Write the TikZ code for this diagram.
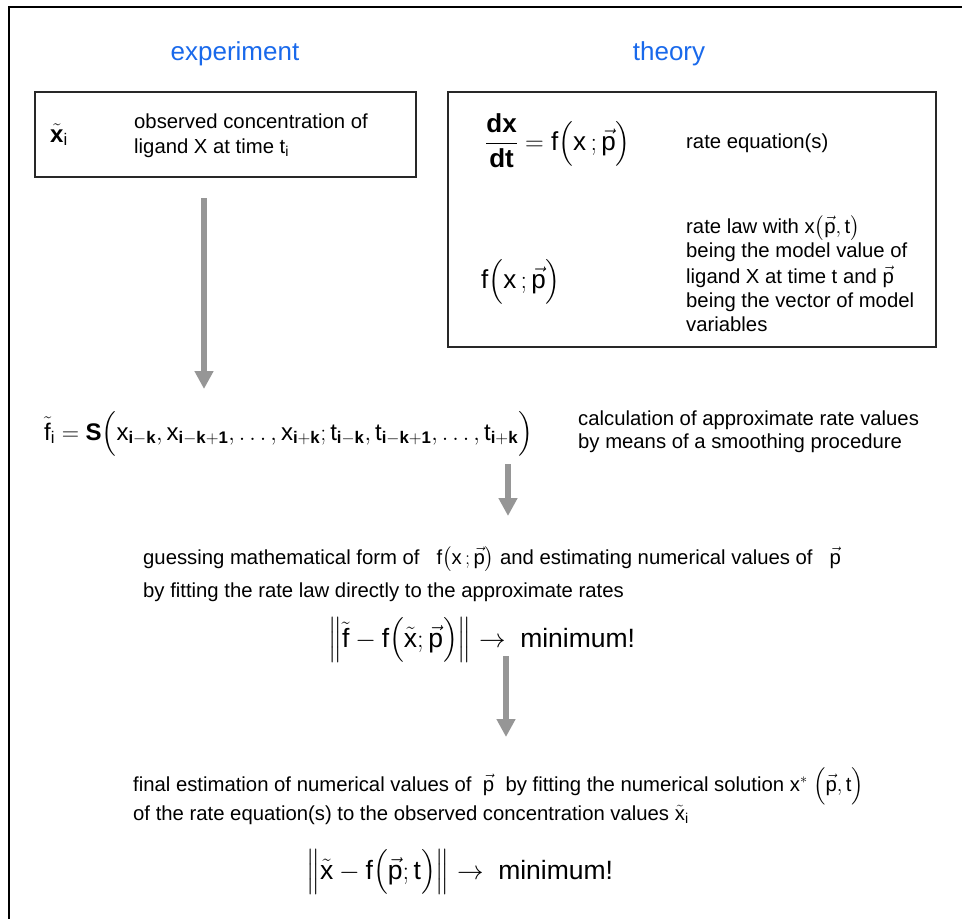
\documentclass[tikz,border=0pt]{standalone}
\usepackage{fix-cm}
\usepackage{amsmath}
\usepackage{fontspec}
\setmainfont{Liberation Sans}
\usetikzlibrary{arrows.meta}
\definecolor{hdblue}{RGB}{25,105,235}
\definecolor{arrgray}{RGB}{150,150,150}
\definecolor{boxline}{RGB}{40,40,40}
\newcommand\mr[1]{\mathrm{#1}}
\newcommand\pv{\vec{\mathrm{p}}}
\tikzset{
  txt/.style={inner sep=0pt, anchor=base west, font=\fontsize{20.3}{24.5}\selectfont},
  head/.style={inner sep=0pt, anchor=base, text=hdblue, font=\fontsize{26}{30}\selectfont},
  frm/.style={inner sep=0pt, anchor=base west, font=\fontsize{24}{28}\selectfont},
  bigfrm/.style={inner sep=0pt, anchor=base west, font=\fontsize{26}{30}\selectfont},
  minfrm/.style={inner sep=0pt, anchor=base west, font=\fontsize{26.5}{30}\selectfont},
  panel/.style={draw=boxline, line width=1.2pt},
  flow/.style={arrgray, line width=6.5pt, -{Triangle[width=18pt,length=18pt]}}
}
\begin{document}
\begin{tikzpicture}[x=1pt,y=-1pt]
\useasboundingbox (0,0) rectangle (962,919);
\draw[line width=1.8pt, black] (9,930) -- (9,7) -- (975,7);

\node[head] (hexp) at (235,60) {experiment};
\node[head] (hth) at (669,60) {theory};

% left box
\draw[panel] (35,92) rectangle (416,177);
\node[frm] (xi) at (50,142) {$\tilde{\mathbf{x}}_{\mr{i}}$};
\node[txt] (obs1) at (134,128) {observed concentration of};
\node[txt] (obs2) at (134,153) {ligand X at time t$_{\mr{i}}$};

% right box
\draw[panel] (448,92) rectangle (936,347);
\node[bigfrm] (rateeq) at (485,150) {$\dfrac{\mathbf{dx}}{\mathbf{dt}}=\mr{f}\Bigl(\mr{x}\,;\pv\Bigr)$};
\node[txt] (rateeqt) at (686,148) {rate equation(s)};
\node[bigfrm] (ratelaw) at (481,288) {$\mr{f}\Bigl(\mr{x}\,;\pv\Bigr)$};
\node[txt] (rl1) at (686,233) {rate law with $\mr{x}\bigl(\pv,\mr{t}\bigr)$};
\node[txt] (rl2) at (686,257) {being the model value of};
\node[txt] (rl3) at (686,283) {ligand X at time t and $\pv$};
\node[txt] (rl4) at (686,307) {being the vector of model};
\node[txt] (rl5) at (686,331) {variables};

% smoothing formula
\node[frm] (smooth) at (44,440) {$\tilde{\mr{f}}_{\mr{i}}=\mathbf{S}\Bigl(\mr{x}_{\mathbf{i}-\mathbf{k}},\mr{x}_{\mathbf{i}-\mathbf{k}+\mathbf{1}},\ldots,\mr{x}_{\mathbf{i}+\mathbf{k}};\mr{t}_{\mathbf{i}-\mathbf{k}},\mr{t}_{\mathbf{i}-\mathbf{k}+\mathbf{1}},\ldots,\mr{t}_{\mathbf{i}+\mathbf{k}}\Bigr)$};
\node[txt] (sm1) at (578,425) {calculation of approximate rate values};
\node[txt] (sm2) at (578,448) {by means of a smoothing procedure};

% guessing
\node[txt] (guess) at (143,564) {guessing mathematical form of \ \ $\mr{f}\bigl(\mr{x}\,;\pv\bigr)$ and estimating numerical values of \ \ $\pv$};
\node[txt] (guess2) at (143,597) {by fitting the rate law directly to the approximate rates};
\node[minfrm] (min1) at (328,647) {$\Bigl\|\tilde{\mr{f}}-\mr{f}\Bigl(\tilde{\mr{x}};\pv\Bigr)\Bigr\|\rightarrow$ \ minimum!};

% final
\node[txt] (final) at (133,791) {final estimation of numerical values of \ $\pv$ \ by fitting the numerical solution $\mr{x}^{*}\ \Bigl(\pv,\mr{t}\Bigr)$};
\node[txt] (final2) at (133,820) {of the rate equation(s) to the observed concentration values $\tilde{\mr{x}}_{\mr{i}}$};
\node[minfrm] (min2) at (306,879) {$\Bigl\|\tilde{\mr{x}}-\mr{f}\Bigl(\pv;\mr{t}\Bigr)\Bigr\|\rightarrow$ \ minimum!};

% arrows
\coordinate (a1s) at (204,198);
\coordinate (a1e) at (204,389);
\coordinate (a2s) at (508,464);
\coordinate (a2e) at (508,516);
\coordinate (a3s) at (506,656);
\coordinate (a3e) at (506,737);
\draw[flow] (a1s) -- (a1e);
\draw[flow] (a2s) -- (a2e);
\draw[flow] (a3s) -- (a3e);
\end{tikzpicture}
\end{document}
